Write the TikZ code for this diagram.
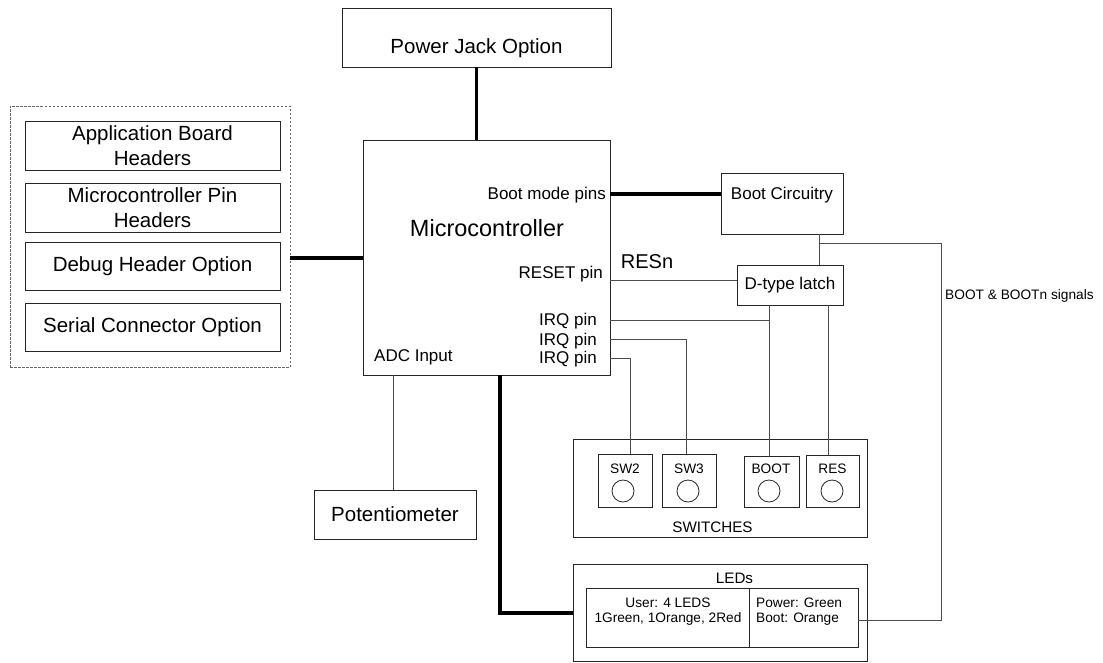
\documentclass[tikz,border=0pt]{standalone}
\usepackage{fontspec}
\setmainfont{Liberation Sans}
\begin{document}
\begin{tikzpicture}[x=1pt,y=-1pt,
  box/.style={draw=black!85, line width=0.9pt, inner sep=0pt, rectangle},
  conn/.style={draw=black!70, line width=0.9pt},
  heavy/.style={draw=black, line width=3.6pt, line join=miter},
  dashbox/.style={draw=black!60, line width=0.8pt, dash pattern=on 2.5pt off 1.5pt, inner sep=0pt},
  fA/.style={font=\fontsize{20.5}{25}\selectfont},
  fM/.style={font=\fontsize{23.5}{28}\selectfont},
  fB/.style={font=\fontsize{17}{20}\selectfont},
  fS/.style={font=\fontsize{13.7}{15.5}\selectfont},
  fL/.style={font=\fontsize{15.2}{18}\selectfont},
  txt/.style={inner sep=0pt},
  knob/.style={circle, draw=black!85, line width=0.8pt, minimum size=22pt, inner sep=0pt}
]
\useasboundingbox (0,0) rectangle (1103,662);
\fill[white] (0,0) rectangle (1103,662);

% left dashed group
\node[dashbox, minimum width=280pt, minimum height=261pt] (grp) at (150,236.5) {};
\node[box, fA, align=center, minimum width=255pt, minimum height=49pt] (appb) at (152.5,145.5) {Application Board\\Headers};
\node[box, fA, align=center, minimum width=255pt, minimum height=49pt] (mcuph) at (152.5,207.5) {Microcontroller Pin\\Headers};
\node[box, fA, minimum width=255pt, minimum height=48pt] (dbg) at (152.5,266) {Debug Header Option};
\node[box, fA, minimum width=255pt, minimum height=48pt] (ser) at (152.5,327) {Serial Connector Option};

% power jack
\node[box, minimum width=269pt, minimum height=59pt] (pwr) at (476.5,37.5) {};
\node[txt, fA] (pwrt) at (476.5,48) {Power Jack Option};

% microcontroller
\node[box, minimum width=247pt, minimum height=235pt] (mcu) at (486.5,257.5) {};
\node[txt, fM] (mcut) at (487,228) {Microcontroller};
\node[txt, fB, anchor=east] (bmp) at (606,195) {Boot mode pins};
\node[txt, fB, anchor=east] (rstp) at (603,274) {RESET pin};
\node[txt, fB, anchor=east] (irq1) at (597,321) {IRQ pin};
\node[txt, fB, anchor=east] (irq2) at (597,341) {IRQ pin};
\node[txt, fB, anchor=east] (irq3) at (597,359) {IRQ pin};
\node[txt, fB, anchor=west] (adc) at (374,357) {ADC Input};

% boot circuitry and latch
\node[box, minimum width=122pt, minimum height=61pt] (bootc) at (782,203.5) {};
\node[txt, fB] (bootct) at (782,195) {Boot Circuitry};
\node[box, fB, minimum width=106pt, minimum height=40pt] (latch) at (790,285) {D-type latch};
\node[txt, font=\fontsize{20}{24}\selectfont] (resn) at (647,262) {RESn};
\node[txt, fS, anchor=west] (sig) at (945,296) {BOOT \& BOOTn signals};

% potentiometer
\node[box, fA, minimum width=162pt, minimum height=49pt] (pot) at (395,514.5) {Potentiometer};

% switches
\node[box, minimum width=294pt, minimum height=98pt] (sws) at (720,488) {};
\node[txt, fL] (swst) at (712.5,527) {SWITCHES};
\node[box, minimum width=54pt, minimum height=53pt] (sw2) at (625,480.5) {};
\node[box, minimum width=54pt, minimum height=53pt] (sw3) at (689,480.5) {};
\node[box, minimum width=55pt, minimum height=51pt] (swb) at (771.5,481.5) {};
\node[box, minimum width=53pt, minimum height=52pt] (swr) at (832.5,481) {};
\node[txt, fS] (sw2t) at (625,469) {SW2};
\node[txt, fS] (sw3t) at (689,469) {SW3};
\node[txt, fS] (swbt) at (771,469) {BOOT};
\node[txt, fS] (swrt) at (832.5,469) {RES};
\node[knob] (k2) at (623,491) {};
\node[knob] (k3) at (688,491) {};
\node[knob] (kb) at (769,491) {};
\node[knob] (kr) at (832,491) {};

% LEDs
\node[box, minimum width=294pt, minimum height=97pt] (leds) at (720,612.5) {};
\node[txt, fL] (ledst) at (734.5,578) {LEDs};
\node[box, minimum width=163pt, minimum height=59pt] (ledu) at (667.5,617.5) {};
\node[box, minimum width=109pt, minimum height=59pt] (ledp) at (803.5,617.5) {};
\node[txt, fS, align=center] (ledut) at (668,611.5) {User: 4 LEDS\\1Green, 1Orange, 2Red};
\node[txt, fS, align=left, anchor=west] (ledpt) at (756,611.5) {Power: Green\\Boot: Orange};

% coordinates
\coordinate (pBoot) at (610,194);
\coordinate (pRst) at (610,280);
\coordinate (pI1) at (610,320);
\coordinate (pI2) at (610,339);
\coordinate (pI3) at (610,358);
\coordinate (xBL) at (819,0);
\coordinate (jn) at (819,243);
\coordinate (corner) at (941,620);
\coordinate (ledR) at (858,620);
\coordinate (xL1) at (769,0);
\coordinate (xL2) at (828,0);
\coordinate (xS3) at (686,0);
\coordinate (xS2) at (630,0);
\coordinate (xAdc) at (393,0);
\coordinate (xLed) at (500,0);
\coordinate (yLed) at (0,613);
\coordinate (yGrp) at (0,258);

% heavy connectors
\draw[heavy] (pwr.south) -- (pwr.south |- mcu.north);
\draw[heavy] (grp.east |- yGrp) -- (mcu.west |- yGrp);
\draw[heavy] (pBoot) -- (pBoot -| bootc.west);
\draw[heavy] (xLed |- mcu.south) -- (xLed |- yLed) -- (leds.west |- yLed);

% thin connectors
\draw[conn] (pRst) -- (pRst -| latch.west);
\draw[conn] (xBL |- bootc.south) -- (xBL |- latch.north);
\draw[conn] (jn) -| (corner) -- (ledR);
\draw[conn] (xL1 |- latch.south) -- (xL1 |- swb.north);
\draw[conn] (pI1) -- (pI1 -| xL1);
\draw[conn] (xL2 |- latch.south) -- (xL2 |- swr.north);
\draw[conn] (pI2) -| (xS3 |- sw3.north);
\draw[conn] (pI3) -| (xS2 |- sw2.north);
\draw[conn] (xAdc |- mcu.south) -- (xAdc |- pot.north);
\end{tikzpicture}
\end{document}
